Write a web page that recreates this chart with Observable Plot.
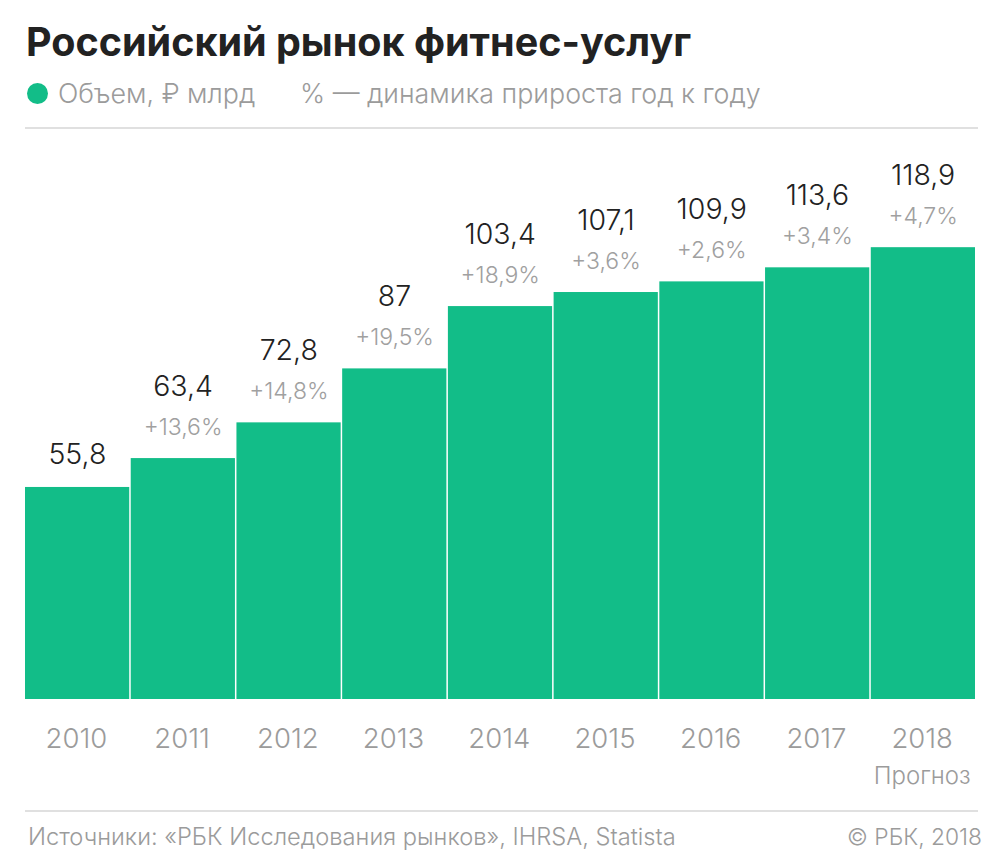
<!DOCTYPE html>
<html lang="ru"><head><meta charset="utf-8">
<script src="https://cdn.jsdelivr.net/npm/d3@7"></script>
<script src="https://cdn.jsdelivr.net/npm/@observablehq/plot@0.6"></script>
<style>
html,body{margin:0;padding:0;background:#fff;width:1005px;height:868px;overflow:hidden;font-family:Inter,"Noto Sans",sans-serif}
#title{position:absolute;left:26px;top:17px;font-size:39.5px;line-height:50px;font-weight:700;color:#222;white-space:nowrap}
#legend{position:absolute;left:27px;top:75px;font-size:26.8px;line-height:36px;color:#9b9b9b;font-weight:300;white-space:nowrap}
#dot{position:absolute;left:0;top:8px;width:21px;height:21px;border-radius:50%;background:#12bd88}
#l1{position:absolute;left:31px;top:0}
#l2{position:absolute;left:273px;top:0}
.rule{position:absolute;left:25px;width:953px;height:2px;background:#e0e0e0}
#chart{position:absolute;left:0;top:130px}
#src{position:absolute;left:28px;top:822px;font-size:23.7px;line-height:30px;color:#9b9b9b;font-weight:300;white-space:nowrap}
#copy{position:absolute;right:23px;top:822px;font-size:22.8px;line-height:30px;color:#9b9b9b;font-weight:300;white-space:nowrap}
svg{overflow:visible}
</style></head><body>
<div id="title">Российский рынок фитнес-услуг</div>
<div id="legend"><span id="dot"></span><span id="l1">Объем, ₽ млрд</span><span id="l2">% — динамика прироста год к году</span></div>
<div class="rule" style="top:127px"></div>
<div id="chart"></div>
<div class="rule" style="top:810px"></div>
<div id="src">Источники: «РБК Исследования рынков», IHRSA, Statista</div>
<div id="copy">© РБК, 2018</div>
<script>
const years = ["2010","2011","2012","2013","2014","2015","2016","2017","2018"];
const volume = [55.8,63.4,72.8,87,103.4,107.1,109.9,113.6,118.9];
const growth = [null,13.6,14.8,19.5,18.9,3.6,2.6,3.4,4.7];
const forecastYear = "2018";
const forecastLabel = "Прогноз";

const rows = years.map((year,i)=>({year,value:volume[i],growth:growth[i]}));
const withGrowth = rows.filter(d=>d.growth!=null);
const noGrowth = rows.filter(d=>d.growth==null);
const comma = v => String(v).replace(".",",");
const font = 'Inter,"Noto Sans",sans-serif';

document.getElementById("chart").append(Plot.plot({
  width:1005,height:670,
  marginLeft:25,marginRight:28.5,marginTop:113,marginBottom:101,
  style:{background:"transparent",fontFamily:font},
  x:{type:"band",domain:years,padding:0,round:false,label:null},
  y:{domain:[0,120],label:null,axis:null},
  marks:[
    Plot.barY(rows,{x:"year",y:"value",fill:"#12bd88",insetRight:1.5}),
    Plot.axisX({tickSize:0,tickPadding:0,fontSize:27.5,dy:29,dx:-2,label:null,fill:"#9b9b9b",fontFamily:font,fontWeight:300}),
    Plot.text(withGrowth,{x:"year",y:"value",text:d=>"+"+comma(d.growth)+"%",dy:-31,dx:-1,fontSize:23,fontWeight:300,fill:"#a0a0a0"}),
    Plot.text(withGrowth,{x:"year",y:"value",text:d=>comma(d.value),dy:-72,dx:-1,fontSize:28.5,fontWeight:300,fill:"#222"}),
    Plot.text(noGrowth,{x:"year",y:"value",text:d=>comma(d.value),dy:-33,dx:-1,fontSize:28.5,fontWeight:300,fill:"#222"}),
    Plot.text([forecastYear],{x:d=>d,frameAnchor:"bottom",text:()=>forecastLabel,dy:84,dx:-2,fontSize:24,fontWeight:300,fill:"#9b9b9b",lineAnchor:"bottom"})
  ]
}));
</script>
</body></html>
